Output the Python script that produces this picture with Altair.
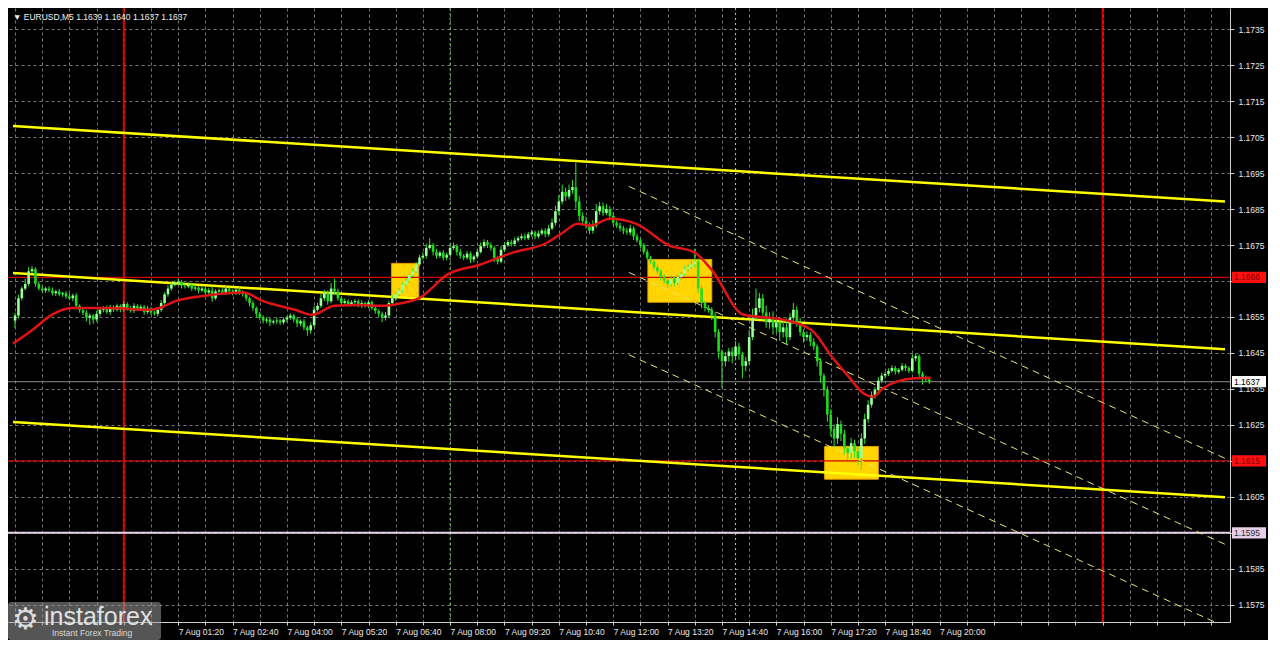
import altair as alt
import pandas as pd

W = 1222
H = 614

# ---- candle data (EURUSD M5), time = minutes from 7 Aug 00:00 ----
first_open = 1.16540
start_min = -160
step_min = 5

closes = [
    1.16554, 1.16602, 1.16629, 1.16642, 1.16677, 1.16683, 1.16642, 1.16629, 1.16624, 1.16629,
    1.16624, 1.16616, 1.16621, 1.16613, 1.16616, 1.16607, 1.16602, 1.16610, 1.16581, 1.16570,
    1.16562, 1.16548, 1.16554, 1.16543, 1.16559, 1.16570, 1.16575, 1.16564, 1.16578, 1.16570,
    1.16581, 1.16570, 1.16586, 1.16575, 1.16567, 1.16581, 1.16573, 1.16578, 1.16564, 1.16573,
    1.16562, 1.16559, 1.16570, 1.16589, 1.16613, 1.16629, 1.16640, 1.16645, 1.16648, 1.16637,
    1.16635, 1.16640, 1.16629, 1.16632, 1.16624, 1.16629, 1.16618, 1.16624, 1.16602, 1.16621,
    1.16624, 1.16618, 1.16629, 1.16621, 1.16616, 1.16626, 1.16618, 1.16613, 1.16602, 1.16589,
    1.16575, 1.16559, 1.16548, 1.16540, 1.16543, 1.16535, 1.16538, 1.16540, 1.16535, 1.16543,
    1.16548, 1.16554, 1.16543, 1.16532, 1.16538, 1.16521, 1.16513, 1.16527, 1.16570, 1.16581,
    1.16602, 1.16616, 1.16594, 1.16629, 1.16621, 1.16602, 1.16589, 1.16594, 1.16586, 1.16591,
    1.16594, 1.16583, 1.16589, 1.16581, 1.16591, 1.16575, 1.16567, 1.16559, 1.16548, 1.16554,
    1.16589, 1.16602, 1.16613, 1.16624, 1.16640, 1.16651, 1.16667, 1.16677, 1.16696, 1.16715,
    1.16720, 1.16742, 1.16750, 1.16731, 1.16720, 1.16729, 1.16715, 1.16723, 1.16742, 1.16747,
    1.16731, 1.16720, 1.16715, 1.16726, 1.16710, 1.16718, 1.16731, 1.16747, 1.16758, 1.16750,
    1.16742, 1.16715, 1.16704, 1.16737, 1.16750, 1.16758, 1.16753, 1.16763, 1.16769, 1.16774,
    1.16769, 1.16780, 1.16785, 1.16774, 1.16782, 1.16790, 1.16780, 1.16796, 1.16812, 1.16844,
    1.16871, 1.16898, 1.16885, 1.16903, 1.16911, 1.16871, 1.16831, 1.16817, 1.16804, 1.16790,
    1.16804, 1.16844, 1.16858, 1.16839, 1.16850, 1.16831, 1.16812, 1.16804, 1.16796, 1.16790,
    1.16785, 1.16796, 1.16774, 1.16763, 1.16750, 1.16731, 1.16715, 1.16704, 1.16688, 1.16677,
    1.16661, 1.16651, 1.16642, 1.16656, 1.16645, 1.16661, 1.16669, 1.16683, 1.16688, 1.16696,
    1.16704, 1.16629, 1.16589, 1.16575, 1.16570, 1.16554, 1.16508, 1.16454, 1.16427, 1.16441,
    1.16454, 1.16441, 1.16468, 1.16446, 1.16414, 1.16427, 1.16494, 1.16548, 1.16575, 1.16602,
    1.16562, 1.16535, 1.16548, 1.16521, 1.16535, 1.16508, 1.16521, 1.16494, 1.16548, 1.16570,
    1.16535, 1.16508, 1.16494, 1.16500, 1.16481, 1.16468, 1.16427, 1.16387, 1.16347, 1.16279,
    1.16239, 1.16212, 1.16252, 1.16225, 1.16185, 1.16172, 1.16199, 1.16177, 1.16158, 1.16212,
    1.16266, 1.16306, 1.16333, 1.16347, 1.16373, 1.16387, 1.16392, 1.16400, 1.16408, 1.16398,
    1.16403, 1.16414, 1.16408, 1.16400, 1.16435, 1.16441, 1.16392, 1.16382, 1.16376, 1.16370,
]

# wick lengths in points (0.00001)
wick_up = [
    8, 10, 6, 15, 12, 8, 5, 6, 9, 5,
    6, 8, 5, 7, 4, 6, 8, 5, 6, 4,
    5, 7, 6, 4, 8, 6, 5, 7, 6, 5,
    6, 4, 8, 5, 6, 7, 4, 6, 5, 8,
    5, 6, 4, 8, 6, 10, 8, 6, 9, 5,
    6, 7, 5, 8, 4, 6, 5, 7, 12, 6,
    5, 6, 8, 4, 6, 5, 7, 6, 5, 4,
    6, 4, 5, 7, 6, 4, 5, 8, 4, 6,
    5, 6, 4, 7, 5, 6, 4, 8, 10, 8,
    12, 10, 8, 15, 27, 8, 6, 7, 5, 6,
    6, 5, 8, 4, 6, 5, 7, 4, 6, 10,
    6, 8, 5, 7, 6, 8, 6, 9, 7, 8,
    10, 12, 19, 6, 8, 5, 7, 6, 8, 10,
    6, 8, 5, 7, 6, 5, 8, 10, 8, 6,
    7, 6, 5, 10, 8, 6, 7, 8, 6, 7,
    8, 6, 7, 5, 8, 6, 7, 10, 12, 15,
    18, 20, 12, 15, 20, 68, 15, 10, 12, 8,
    15, 20, 12, 10, 14, 8, 10, 6, 8, 7,
    8, 10, 6, 7, 5, 6, 7, 5, 6, 8,
    6, 8, 5, 10, 7, 8, 6, 9, 8, 10,
    35, 8, 10, 6, 8, 7, 10, 8, 6, 12,
    10, 12, 15, 10, 8, 12, 20, 25, 54, 15,
    12, 20, 15, 18, 12, 15, 20, 25, 12, 19,
    10, 12, 8, 10, 8, 10, 6, 8, 6, 10,
    15, 12, 20, 10, 12, 8, 15, 10, 12, 15,
    15, 12, 10, 8, 10, 8, 6, 7, 8, 6,
    5, 8, 6, 5, 12, 8, 5, 6, 5, 4,
]
wick_dn = [
    20, 8, 6, 5, 7, 6, 8, 5, 6, 7,
    5, 6, 8, 5, 7, 6, 5, 8, 10, 8,
    8, 10, 20, 12, 6, 8, 7, 5, 8, 6,
    5, 7, 6, 8, 5, 6, 7, 5, 8, 6,
    6, 5, 8, 6, 5, 7, 6, 5, 7, 8,
    6, 5, 7, 6, 8, 5, 7, 6, 10, 5,
    6, 5, 7, 8, 6, 5, 7, 6, 8, 10,
    8, 10, 6, 8, 7, 10, 6, 8, 7, 6,
    7, 6, 8, 10, 7, 8, 15, 10, 6, 5,
    6, 8, 10, 6, 8, 7, 6, 8, 7, 6,
    7, 6, 8, 5, 7, 6, 8, 10, 13, 8,
    6, 5, 7, 5, 6, 5, 6, 5, 6, 5,
    6, 8, 5, 10, 8, 6, 8, 7, 5, 6,
    10, 8, 7, 6, 10, 8, 6, 5, 6, 8,
    8, 12, 8, 5, 6, 5, 7, 6, 5, 6,
    6, 5, 7, 8, 6, 5, 8, 6, 5, 8,
    10, 8, 12, 8, 10, 20, 15, 10, 8, 10,
    8, 6, 10, 8, 6, 10, 8, 6, 8, 10,
    6, 8, 10, 6, 8, 7, 6, 8, 7, 8,
    10, 8, 12, 8, 10, 6, 8, 5, 6, 5,
    8, 12, 15, 10, 8, 12, 15, 20, 75, 15,
    15, 20, 12, 15, 35, 15, 10, 8, 6, 12,
    20, 15, 18, 20, 15, 25, 15, 20, 8, 10,
    12, 10, 15, 10, 12, 10, 15, 20, 18, 20,
    20, 25, 15, 20, 18, 20, 15, 18, 20, 32,
    15, 10, 8, 10, 8, 7, 8, 6, 5, 8,
    6, 5, 8, 6, 5, 8, 12, 20, 8, 6,
]

# moving average (red line): (minute, price)
ma_t = [-163, -135, -106, -77, -20, 37, 52, 76, 123, 176, 205, 252, 277, 310, 348, 377,
        410, 434, 477, 525, 572, 621, 644, 668, 687, 715, 754, 801, 840, 864, 912,
        969, 1012, 1041, 1065, 1088, 1102, 1117, 1160, 1187]
ma_p = [1.16476, 1.16513, 1.16556, 1.16575, 1.16575, 1.16570, 1.16575, 1.16594, 1.16610,
        1.16618, 1.16594, 1.16570, 1.16556, 1.16581, 1.16583, 1.16581, 1.16589, 1.16602,
        1.16669, 1.16696, 1.16729, 1.16755, 1.16782, 1.16809, 1.16804, 1.16823, 1.16809,
        1.16750, 1.16729, 1.16683, 1.16556, 1.16543, 1.16513, 1.16441, 1.16387, 1.16338,
        1.16328, 1.16352, 1.16379, 1.16381]

# yellow regression channel (solid), endpoints (minute, price)
chan_t = [-163, 1620]
chan_upper = [1.17081, 1.16871]
chan_mid = [1.16672, 1.16460]
chan_lower = [1.16258, 1.16049]

# dashed descending channel
dash_t = [743, 1620]
dash_upper = [1.16913, 1.16157]
dash_mid = [1.16674, 1.15918]
dash_lower = [1.16445, 1.15689]

# yellow signal boxes
box_t0 = [394, 771, 1031]
box_t1 = [434, 865, 1110]
box_p0 = [1.16699, 1.16710, 1.16190]
box_p1 = [1.16605, 1.16591, 1.16099]

# horizontal levels
level_p = [1.1666, 1.1637, 1.1615, 1.1595]
level_col = ["#d00000", "#8c8c8c", "#d00000", "#e8d2e8"]
level_w = [1.2, 1, 1.2, 2]
level_lbl = ["1.1666", "1.1637", "1.1615", "1.1595"]
level_bg = ["#ff1010", "#ffffff", "#ff1010", "#e6cfe6"]
level_fg = ["#7a0000", "#000000", "#7a0000", "#303030"]

# axis labels hidden under the level boxes
hidden_lbls = ["1.1665", "1.1615", "1.1595"]

# day separators and session markers
day_t = [0, 1440]
sess_t = [480, 900]
sess_col = ["#66dd44", "#c8d860"]

price_ticks = [round(1.1575 + 0.001 * i, 4) for i in range(17)]
time_ticks = list(range(-160, 1620, 40))

title_txt = "\u25bc EURUSD,M5  1.1639 1.1640 1.1637 1.1637"

# ---------- build tables ----------
n = len(closes)
t = [start_min + step_min * i for i in range(n)]
opens = [first_open] + closes[:-1]
highs = [max(o, c) + u * 1e-5 for o, c, u in zip(opens, closes, wick_up)]
lows = [min(o, c) - d * 1e-5 for o, c, d in zip(opens, closes, wick_dn)]
candles = pd.DataFrame({"t": t, "open": opens, "close": closes, "high": highs, "low": lows})
candles["col"] = ["#9dff9d" if c >= o else "#1fdc1f" for o, c in zip(opens, closes)]

ma = pd.DataFrame({"t": ma_t, "p": ma_p})
chan = pd.DataFrame({
    "t": chan_t * 3,
    "p": chan_upper + chan_mid + chan_lower,
    "id": ["u", "u", "m", "m", "l", "l"],
})
dash = pd.DataFrame({
    "t": dash_t * 3,
    "p": dash_upper + dash_mid + dash_lower,
    "id": ["u", "u", "m", "m", "l", "l"],
})
boxes = pd.DataFrame({"t0": box_t0, "t1": box_t1, "p0": box_p0, "p1": box_p1})
levels = pd.DataFrame({"p": level_p, "col": level_col, "w": level_w,
                       "lbl": level_lbl, "bg": level_bg, "fg": level_fg})
days = pd.DataFrame({"t": day_t})
sess = pd.DataFrame({"t": sess_t, "col": sess_col})
one = pd.DataFrame({"a": [0]})

xscale = alt.Scale(domain=[-163, 1620], nice=False, zero=False)
yscale = alt.Scale(domain=[1.15702, 1.17409], nice=False, zero=False)

FONT = "Liberation Sans"
xaxis = alt.Axis(
    values=time_ticks, orient="bottom", title=None, zindex=0,
    labelExpr="(datum.value % 80 == 0 && datum.value >= 80 && datum.value <= 1200) ? '7 Aug ' + utcFormat(datum.value * 60000, '%H:%M') : ''",
    grid=True, gridColor="#8a8a8a", gridDash=[3, 3], gridWidth=1, gridOpacity=0.85,
    domainColor="#d0d0d0", tickColor="#d0d0d0", tickSize=3,
    labelColor="#e8e8e8", labelFont=FONT, labelFontSize=8.5, labelAlign="left",
    labelPadding=2, labelOverlap=False, labelFlush=False,
)
yaxis = alt.Axis(
    values=price_ticks, orient="right", title=None, format=".4f", zindex=0,
    labelExpr="indexof(" + str(hidden_lbls) + ", datum.label) >= 0 ? '' : datum.label",
    grid=True, gridColor="#8a8a8a", gridDash=[3, 3], gridWidth=1, gridOpacity=0.85,
    domainColor="#d0d0d0", tickColor="#d0d0d0", tickSize=4,
    labelColor="#e8e8e8", labelFont=FONT, labelFontSize=8.5, labelPadding=4,
    labelOverlap=False, labelFlush=False,
)


def X(f):
    return alt.X(f, type="quantitative", scale=xscale, axis=xaxis)


def Y(f):
    return alt.Y(f, type="quantitative", scale=yscale, axis=yaxis)


box_layer = alt.Chart(boxes).mark_rect(fill="#ffd400", stroke="#e8a000", strokeWidth=1, clip=True).encode(
    x=X("t0"), x2="t1", y=Y("p0"), y2="p1")

day_layer = alt.Chart(days).mark_rule(color="#e00000", strokeWidth=2, clip=True).encode(x=X("t"))

sess_layer = alt.Chart(sess).mark_rule(strokeWidth=1, strokeDash=[2, 3], clip=True).encode(
    x=X("t"), color=alt.Color("col:N", scale=None))

level_layer = alt.Chart(levels).mark_rule(clip=True).encode(
    y=Y("p"), color=alt.Color("col:N", scale=None), strokeWidth=alt.StrokeWidth("w:Q", scale=None))

chan_layer = alt.Chart(chan).mark_line(color="#ffff00", strokeWidth=2.5, clip=True).encode(
    x=X("t"), y=Y("p"), detail="id:N")

dash_layer = alt.Chart(dash).mark_line(color="#e6e67a", strokeWidth=1, strokeDash=[7, 5], clip=True).encode(
    x=X("t"), y=Y("p"), detail="id:N")

wick_layer = alt.Chart(candles).mark_rule(color="#2ee82e", strokeWidth=1, clip=True).encode(
    x=X("t"), y=Y("low"), y2="high")

body_layer = alt.Chart(candles).mark_bar(size=2.6, clip=True).encode(
    x=X("t"), y=Y("open"), y2="close", color=alt.Color("col:N", scale=None))

ma_layer = alt.Chart(ma).mark_line(color="#e01414", strokeWidth=2.5, interpolate="monotone", clip=True).encode(
    x=X("t"), y=Y("p"))

lbl_box = alt.Chart(levels).mark_point(
    shape="M-1,-0.33L1,-0.33L1,0.33L-1,0.33Z", filled=True, size=34 * 34, opacity=1, strokeWidth=0).encode(
    x=alt.value(W + 19), y=Y("p"), color=alt.Color("bg:N", scale=None))

lbl_txt = alt.Chart(levels).mark_text(align="left", baseline="middle", font=FONT, fontSize=8.5).encode(
    x=alt.value(W + 4), y=Y("p"), text="lbl:N", color=alt.Color("fg:N", scale=None))

title_layer = alt.Chart(one).mark_text(align="left", baseline="middle", font=FONT, fontSize=8.5,
                                       color="#f0f0f0").encode(
    x=alt.value(5), y=alt.value(9), text=alt.value(title_txt))

wm_rect = alt.Chart(one).mark_rect(color="#9a9a9a", opacity=0.55, cornerRadius=3).encode(
    x=alt.value(0), x2=alt.value(153), y=alt.value(H - 20), y2=alt.value(H + 18))
wm_gear = alt.Chart(one).mark_text(align="left", baseline="middle", font="DejaVu Sans", fontSize=30,
                                   color="#dcdcdc").encode(
    x=alt.value(4), y=alt.value(H - 2), text=alt.value("\u2699"))
wm_text = alt.Chart(one).mark_text(align="left", baseline="middle", font=FONT, fontSize=25,
                                   color="#e0e0e0").encode(
    x=alt.value(36), y=alt.value(H - 5), text=alt.value("instaforex"))
wm_sub = alt.Chart(one).mark_text(align="left", baseline="middle", font=FONT, fontSize=8.5,
                                  color="#d8d8d8").encode(
    x=alt.value(44), y=alt.value(H + 11), text=alt.value("Instant Forex Trading"))

chart = alt.layer(
    box_layer, day_layer, sess_layer, level_layer, chan_layer, dash_layer,
    wick_layer, body_layer, ma_layer, lbl_box, lbl_txt, title_layer,
    wm_rect, wm_gear, wm_text, wm_sub,
).properties(
    width=W, height=H, padding={"left": 0, "top": 0, "right": 2, "bottom": 0}
).configure(background="black").configure_view(stroke=None)

chart.save("out.html", embed_options={"renderer": "svg", "actions": False})
